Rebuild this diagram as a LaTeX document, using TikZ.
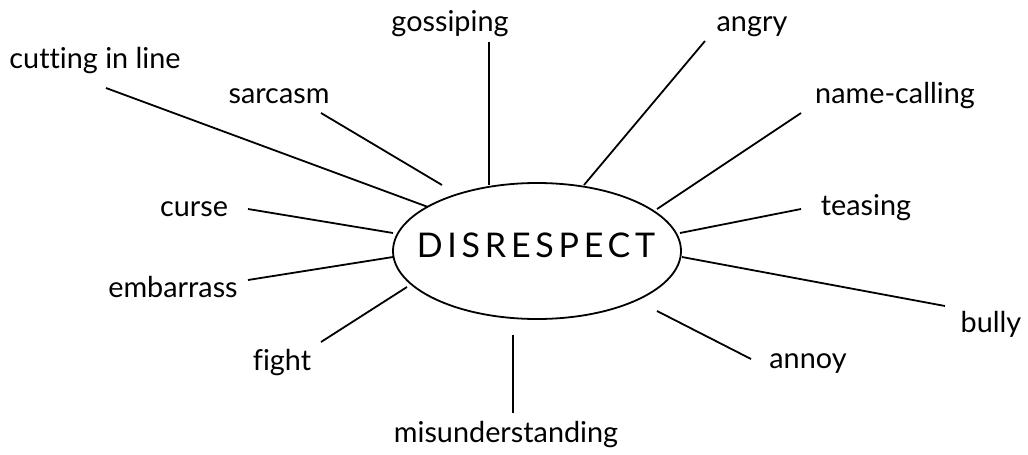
\documentclass[tikz,border=0pt]{standalone}
\usepackage{fontspec}
\setmainfont{Lato}[Ligatures=NoCommon]
\usetikzlibrary{shapes.geometric}
\begin{document}
\begin{tikzpicture}[x=0.5pt,y=-0.5pt,
  lbl/.style={anchor=base,inner sep=0pt,font=\fontsize{14.4}{16}\selectfont},
  spoke/.style={line width=0.9pt},
  hub/.style={draw,line width=0.9pt,ellipse,minimum width=144pt,minimum height=68pt,inner sep=0pt}]
\useasboundingbox (0,0) rectangle (1028,455);
\node[hub] (c) at (537,251) {};
\node[anchor=base,inner sep=0pt,font=\fontsize{17}{19}\selectfont\addfontfeature{LetterSpace=14}] (ct) at (536,257) {DISRESPECT};
% labels
\node[lbl] (gos) at (450,32) {gossiping};
\node[lbl] (cut) at (95,68) {cutting in line};
\node[lbl] (sar) at (279,103) {sarcasm};
\node[lbl] (cur) at (194,216) {curse};
\node[lbl] (emb) at (173,297) {embarrass};
\node[lbl] (fig) at (282,370) {fight};
\node[lbl] (mis) at (506,442) {misunderstanding};
\node[lbl] (ann) at (808,368) {annoy};
\node[lbl] (bul) at (991,332) {bully};
\node[lbl] (tea) at (866,215) {teasing};
\node[lbl] (nam) at (895,103) {name-calling};
\node[lbl] (ang) at (752,32) {angry};
% spoke ends
\coordinate (gos1) at (489,42);  \coordinate (gos2) at (489,185);
\coordinate (cut1) at (106,88);  \coordinate (cut2) at (428,207);
\coordinate (sar1) at (321,113); \coordinate (sar2) at (442,185);
\coordinate (cur1) at (248,209); \coordinate (cur2) at (393,233);
\coordinate (emb1) at (248,280); \coordinate (emb2) at (393,257);
\coordinate (fig1) at (321,342); \coordinate (fig2) at (407,287);
\coordinate (mis1) at (513,413); \coordinate (mis2) at (513,335);
\coordinate (ann1) at (751,359); \coordinate (ann2) at (657,311);
\coordinate (bul1) at (945,306); \coordinate (bul2) at (682,257);
\coordinate (tea1) at (801,209); \coordinate (tea2) at (680,233);
\coordinate (nam1) at (801,113); \coordinate (nam2) at (657,209);
\coordinate (ang1) at (705,41);  \coordinate (ang2) at (584,185);
\foreach \s in {gos,cut,sar,cur,emb,fig,mis,ann,bul,tea,nam,ang}
  \draw[spoke] (\s1) -- (\s2);
\end{tikzpicture}
\end{document}
